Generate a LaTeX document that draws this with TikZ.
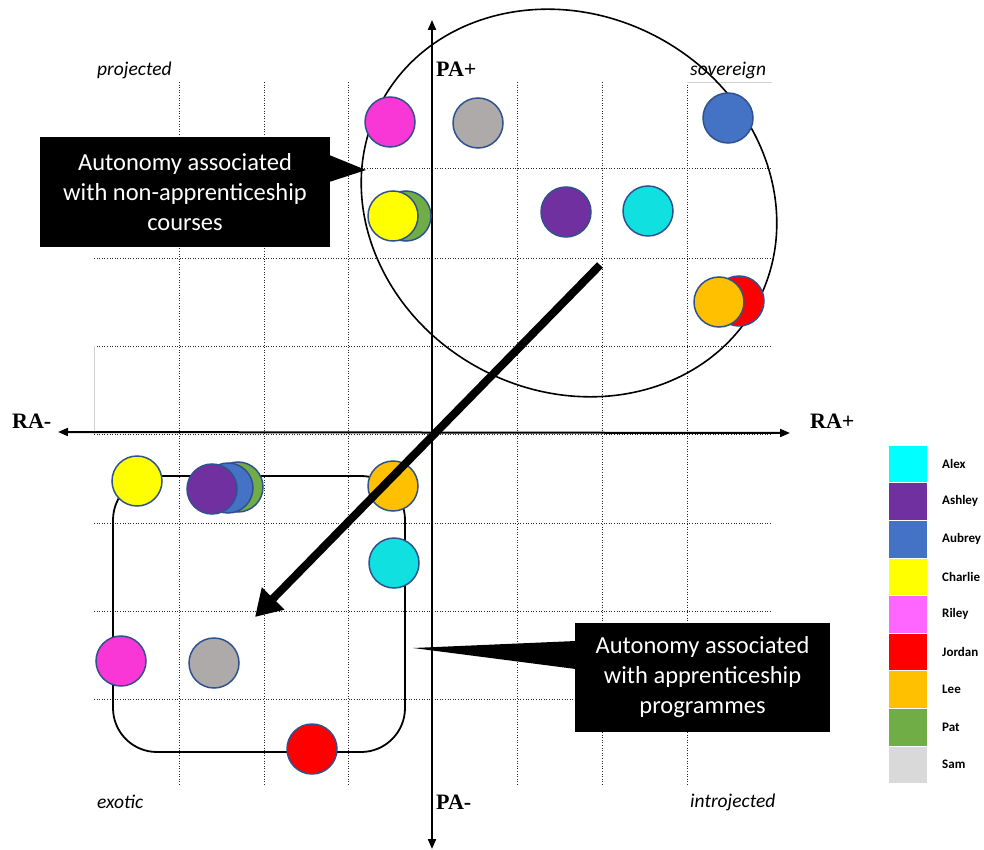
\documentclass[tikz,border=0pt]{standalone}
\usepackage{fontspec}
\setmainfont{Carlito}
\newfontfamily\axisfont{Liberation Serif}
\usetikzlibrary{arrows.meta,shapes.geometric}

% participant colours (markers)
\definecolor{cAlex}{HTML}{10E0E0}
\definecolor{cAshley}{HTML}{7030A0}
\definecolor{cAubrey}{HTML}{4472C4}
\definecolor{cCharlie}{HTML}{FFFF00}
\definecolor{cRiley}{HTML}{F936D6}
\definecolor{cJordan}{HTML}{FF0000}
\definecolor{cLee}{HTML}{FFC000}
\definecolor{cPat}{HTML}{70AD47}
\definecolor{cSam}{HTML}{AEAAAA}
% legend swatches
\definecolor{lAlex}{HTML}{00FFFF}
\definecolor{lRiley}{HTML}{FF66FF}
\definecolor{lSam}{HTML}{D9D9D9}
\definecolor{ringblue}{HTML}{2F528F}
\definecolor{faint}{HTML}{D0D0D0}

\tikzset{
  gridline/.style={dash pattern=on 1pt off 1.6pt, line width=1pt, black!85},
  axisline/.style={line width=2pt, {Triangle[length=10pt,width=8pt]}-{Triangle[length=10pt,width=8pt]}},
  axislabel/.style={font=\axisfont\bfseries\fontsize{22}{22}\selectfont, inner sep=0pt},
  cornerlabel/.style={font=\itshape\fontsize{19.5}{19.5}\selectfont, inner sep=0pt},
  person/.style={circle, minimum size=50pt, inner sep=0pt, draw=ringblue, line width=1.5pt},
  callout/.style={fill=black, text=white, align=center, inner sep=0pt,
    font=\fontsize{24.5}{30}\selectfont},
  legendbox/.style={minimum width=39pt, minimum height=37.6pt, inner sep=0pt, draw=white, line width=0.6pt},
  legendlabel/.style={font=\bfseries\fontsize{13}{13}\selectfont, inner sep=0pt, anchor=west},
}

\begin{document}
\begin{tikzpicture}[x=1pt,y=-1pt]
\useasboundingbox (0,0) rectangle (984,850);

% dotted grid
\foreach \gx in {179,264,348,517,602,687}
  \draw[gridline] (\gx,82) -- (\gx,785);
\foreach \gy in {169,258,346,434.5,523,611,699}
  \draw[gridline] (94,\gy) -- (772,\gy);
\draw[faint, line width=0.8pt] (94,346) -- (94,434);
\draw[faint, line width=0.8pt] (687,82) -- (772,82);

% axes
\coordinate (ytop) at (432,20);
\coordinate (ybot) at (432,849);
\coordinate (xleft) at (58,432);
\coordinate (xright) at (790,433);
\draw[axisline] (ybot) -- (ytop);
\draw[axisline] (xleft) -- (xright);

\node[axislabel, anchor=west] (paplus) at (436,69) {PA+};
\node[axislabel, anchor=west] (paminus) at (436,802) {PA-};
\node[axislabel, anchor=west] (raminus) at (12,421) {RA-};
\node[axislabel, anchor=west] (raplus) at (810,421) {RA+};

\node[cornerlabel, anchor=west] (projected) at (97,70) {projected};
\node[cornerlabel, anchor=west] (sovereign) at (690,70) {sovereign};
\node[cornerlabel, anchor=west] (exotic) at (97,802) {exotic};
\node[cornerlabel, anchor=west] (introjected) at (690,802) {introjected};

% grouping outlines
\node[draw, ellipse, line width=1.6pt, minimum width=426pt, minimum height=376pt,
      inner sep=0pt, rotate=-28] (nongroup) at (569,203) {};
\draw[line width=1.8pt, rounded corners=44pt] (113,476) rectangle (405,752);
\node[inner sep=0pt, minimum width=292pt, minimum height=276pt] (appgroup) at (259,614) {};

% markers, upper half
\node[person, fill=cRiley]   (rileyA)   at (390,122) {};
\node[person, fill=cSam]     (samA)     at (478,123) {};
\node[person, fill=cAubrey]  (aubreyA)  at (728,118) {};
\node[person, fill=cPat]     (patA)     at (406,216) {};
\node[person, fill=cCharlie] (charlieA) at (393,216) {};
\node[person, fill=cAshley]  (ashleyA)  at (566,212) {};
\node[person, fill=cAlex]    (alexA)    at (648,211) {};
\node[person, fill=cJordan]  (jordanA)  at (739,301) {};
\node[person, fill=cLee]     (leeA)     at (719,302) {};

% markers, lower half
\node[person, fill=cCharlie] (charlieB) at (137,481) {};
\node[person, fill=cPat]     (patB)     at (238,487) {};
\node[person, fill=cAubrey]  (aubreyB)  at (228,488) {};
\node[person, fill=cAshley]  (ashleyB)  at (212,489) {};
\node[person, fill=cLee]     (leeB)     at (393,486) {};
\node[person, fill=cAlex]    (alexB)    at (394,563) {};
\node[person, fill=cRiley]   (rileyB)   at (121,661) {};
\node[person, fill=cSam]     (samB)     at (214,663) {};
\node[person, fill=cJordan]  (jordanB)  at (312,749) {};

% shift arrow
\coordinate (shiftstart) at (600,265);
\coordinate (shiftend) at (255,617);
\draw[line width=8pt, -{Triangle[length=26pt,width=30pt]}] (shiftstart) -- (shiftend);

% callouts
\node[callout, minimum width=290pt, minimum height=110pt] (calloutA) at (185,192)
  {Autonomy associated\\with non-apprenticeship\\courses};
\coordinate (tipA) at (366,170);
\fill ([xshift=-1pt,yshift=37pt]calloutA.east) -- (tipA) -- ([xshift=-1pt,yshift=10pt]calloutA.east) -- cycle;

\node[callout, minimum width=255pt, minimum height=109pt] (calloutB) at (702.5,677.5)
  {Autonomy associated\\with apprenticeship\\programmes};
\coordinate (tipB) at (413,648);
\fill ([xshift=1pt,yshift=36.5pt]calloutB.west) -- (tipB) -- ([xshift=1pt,yshift=8.5pt]calloutB.west) -- cycle;

% legend
\foreach \nm/\col [count=\i from 0] in {Alex/lAlex, Ashley/cAshley, Aubrey/cAubrey,
    Charlie/cCharlie, Riley/lRiley, Jordan/cJordan, Lee/cLee, Pat/cPat, Sam/lSam} {
  \node[legendbox, fill=\col] (key\nm) at (907.5, 463.8+37.6*\i) {};
  \node[legendlabel] (label\nm) at (942, 463.8+37.6*\i) {\nm};
}
\end{tikzpicture}
\end{document}
